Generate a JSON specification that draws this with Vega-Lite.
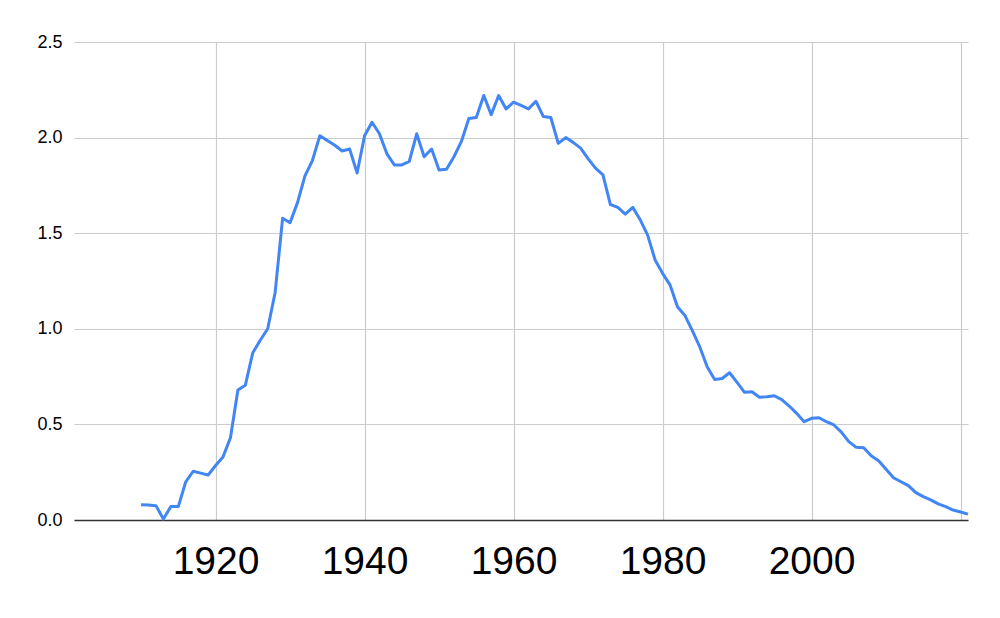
{
  "$schema": "https://vega.github.io/schema/vega-lite/v6.json",
  "width": 894,
  "height": 478,
  "autosize": {"type": "none"},
  "padding": {"left": 74, "top": 42, "right": 32, "bottom": 98},
  "background": "white",
  "config": {"view": {"stroke": null}, "font": "Liberation Sans"},
  "data": {
    "values": [
      {"year": 1910, "value": 0.08},
      {"year": 1911, "value": 0.078},
      {"year": 1912, "value": 0.075},
      {"year": 1913, "value": 0.005},
      {"year": 1914, "value": 0.07},
      {"year": 1915, "value": 0.07},
      {"year": 1916, "value": 0.2},
      {"year": 1917, "value": 0.255},
      {"year": 1918, "value": 0.245},
      {"year": 1919, "value": 0.235},
      {"year": 1920, "value": 0.285},
      {"year": 1921, "value": 0.33},
      {"year": 1922, "value": 0.43},
      {"year": 1923, "value": 0.68},
      {"year": 1924, "value": 0.705},
      {"year": 1925, "value": 0.875},
      {"year": 1926, "value": 0.94},
      {"year": 1927, "value": 1.0},
      {"year": 1928, "value": 1.19},
      {"year": 1929, "value": 1.578},
      {"year": 1930, "value": 1.555},
      {"year": 1931, "value": 1.66},
      {"year": 1932, "value": 1.8},
      {"year": 1933, "value": 1.88},
      {"year": 1934, "value": 2.01},
      {"year": 1935, "value": 1.985},
      {"year": 1936, "value": 1.96},
      {"year": 1937, "value": 1.93},
      {"year": 1938, "value": 1.94},
      {"year": 1939, "value": 1.815},
      {"year": 1940, "value": 2.01},
      {"year": 1941, "value": 2.08},
      {"year": 1942, "value": 2.02},
      {"year": 1943, "value": 1.915},
      {"year": 1944, "value": 1.857},
      {"year": 1945, "value": 1.857},
      {"year": 1946, "value": 1.875},
      {"year": 1947, "value": 2.02},
      {"year": 1948, "value": 1.9},
      {"year": 1949, "value": 1.94},
      {"year": 1950, "value": 1.83},
      {"year": 1951, "value": 1.835},
      {"year": 1952, "value": 1.9},
      {"year": 1953, "value": 1.98},
      {"year": 1954, "value": 2.1},
      {"year": 1955, "value": 2.105},
      {"year": 1956, "value": 2.22},
      {"year": 1957, "value": 2.12},
      {"year": 1958, "value": 2.22},
      {"year": 1959, "value": 2.15},
      {"year": 1960, "value": 2.185},
      {"year": 1961, "value": 2.168},
      {"year": 1962, "value": 2.15},
      {"year": 1963, "value": 2.19},
      {"year": 1964, "value": 2.11},
      {"year": 1965, "value": 2.105},
      {"year": 1966, "value": 1.97},
      {"year": 1967, "value": 2.0},
      {"year": 1968, "value": 1.975},
      {"year": 1969, "value": 1.945},
      {"year": 1970, "value": 1.89},
      {"year": 1971, "value": 1.84},
      {"year": 1972, "value": 1.805},
      {"year": 1973, "value": 1.65},
      {"year": 1974, "value": 1.635},
      {"year": 1975, "value": 1.6},
      {"year": 1976, "value": 1.635},
      {"year": 1977, "value": 1.57},
      {"year": 1978, "value": 1.49},
      {"year": 1979, "value": 1.36},
      {"year": 1980, "value": 1.29},
      {"year": 1981, "value": 1.23},
      {"year": 1982, "value": 1.115},
      {"year": 1983, "value": 1.07},
      {"year": 1984, "value": 0.99},
      {"year": 1985, "value": 0.905},
      {"year": 1986, "value": 0.8},
      {"year": 1987, "value": 0.735},
      {"year": 1988, "value": 0.74},
      {"year": 1989, "value": 0.77},
      {"year": 1990, "value": 0.72},
      {"year": 1991, "value": 0.668},
      {"year": 1992, "value": 0.671},
      {"year": 1993, "value": 0.642},
      {"year": 1994, "value": 0.645},
      {"year": 1995, "value": 0.65},
      {"year": 1996, "value": 0.63},
      {"year": 1997, "value": 0.596},
      {"year": 1998, "value": 0.558},
      {"year": 1999, "value": 0.514},
      {"year": 2000, "value": 0.532},
      {"year": 2001, "value": 0.535},
      {"year": 2002, "value": 0.514},
      {"year": 2003, "value": 0.497},
      {"year": 2004, "value": 0.46},
      {"year": 2005, "value": 0.41},
      {"year": 2006, "value": 0.38},
      {"year": 2007, "value": 0.378},
      {"year": 2008, "value": 0.336},
      {"year": 2009, "value": 0.31},
      {"year": 2010, "value": 0.265},
      {"year": 2011, "value": 0.221},
      {"year": 2012, "value": 0.2},
      {"year": 2013, "value": 0.18},
      {"year": 2014, "value": 0.143},
      {"year": 2015, "value": 0.122},
      {"year": 2016, "value": 0.105},
      {"year": 2017, "value": 0.084},
      {"year": 2018, "value": 0.07},
      {"year": 2019, "value": 0.052},
      {"year": 2020, "value": 0.042},
      {"year": 2021, "value": 0.031}
    ]
  },
  "mark": {"type": "line", "color": "#4285F4", "strokeWidth": 3, "strokeJoin": "round"},
  "encoding": {
    "x": {
      "field": "year",
      "type": "quantitative",
      "scale": {"domain": [1901, 2021], "nice": false, "zero": false},
      "axis": {
        "title": null,
        "values": [1920, 1940, 1960, 1980, 2000, 2020],
        "format": "d",
        "labelExpr": "datum.value == 2020 ? '' : datum.label",
        "labelFontSize": 39,
        "labelColor": "#000000",
        "labelPadding": 22,
        "ticks": false,
        "domain": true,
        "domainColor": "#333333",
        "domainWidth": 1.5,
        "grid": true,
        "gridColor": "#cccccc",
        "gridWidth": 1.2
      }
    },
    "y": {
      "field": "value",
      "type": "quantitative",
      "scale": {"domain": [0, 2.5], "nice": false},
      "axis": {
        "title": null,
        "values": [0, 0.5, 1, 1.5, 2, 2.5],
        "format": ".1f",
        "labelFontSize": 18,
        "labelColor": "#000000",
        "labelPadding": 12,
        "ticks": false,
        "domain": false,
        "grid": true,
        "gridColor": "#cccccc",
        "gridWidth": 1.2
      }
    }
  }
}
